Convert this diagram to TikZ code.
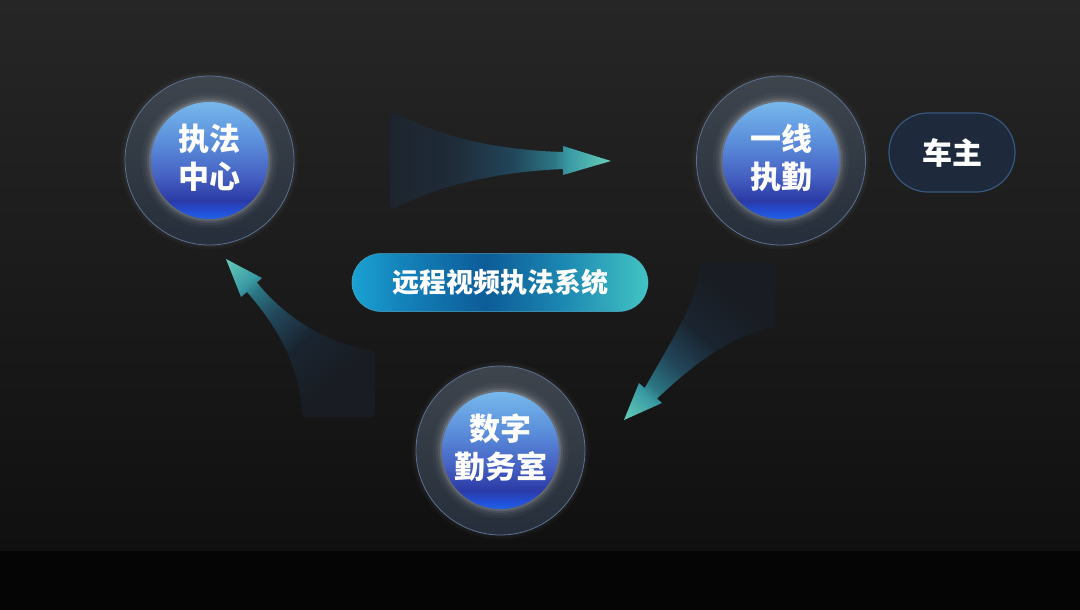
\documentclass[tikz,border=0pt]{standalone}
\usepackage{fontspec}
\newfontfamily\cjk{Noto Sans CJK SC}
\definecolor{bgtop}{HTML}{262626}
\definecolor{bgbot}{HTML}{101010}
\definecolor{arA}{HTML}{1E242D}
\definecolor{arB}{HTML}{1F2C3A}
\definecolor{sdA}{HTML}{191D23}
\definecolor{sdB}{HTML}{1A2430}
\definecolor{arC}{HTML}{22465A}
\definecolor{arD}{HTML}{2C7684}
\definecolor{arE}{HTML}{3A9AA4}
\definecolor{arF}{HTML}{66CEBB}
\definecolor{ballA}{HTML}{2262E4}
\definecolor{ballB}{HTML}{2250D8}
\definecolor{ballC}{HTML}{2B3AA6}
\definecolor{ballD}{HTML}{4560C2}
\definecolor{ballE}{HTML}{5A8CDA}
\definecolor{ballF}{HTML}{76B8EC}
\definecolor{ringtop}{HTML}{3E454D}
\definecolor{ringbot}{HTML}{262E3B}
\definecolor{ringline}{HTML}{5C7096}
\definecolor{pillA}{HTML}{1AA2D2}
\definecolor{pillB}{HTML}{1585BD}
\definecolor{pillC}{HTML}{0C5C98}
\definecolor{pillD}{HTML}{1B85B0}
\definecolor{pillE}{HTML}{42C4C4}
\definecolor{ownfill}{HTML}{1E2A3C}
\definecolor{ownline}{HTML}{36597F}
\pgfdeclarehorizontalshading{arrowshade}{100bp}{color(0bp)=(arA); color(36bp)=(arA); color(48bp)=(arB); color(58bp)=(arC); color(65bp)=(arD); color(67.5bp)=(arE); color(75bp)=(arF); color(100bp)=(arF)}
\pgfdeclarehorizontalshading{sideshade}{100bp}{color(0bp)=(sdA); color(38bp)=(sdA); color(49bp)=(sdB); color(58bp)=(arC); color(65bp)=(arD); color(67.5bp)=(arE); color(75bp)=(arF); color(100bp)=(arF)}
\pgfdeclareverticalshading{ballshade}{100bp}{color(0bp)=(ballA); color(25bp)=(ballA); color(28bp)=(ballB); color(33bp)=(ballC); color(43bp)=(ballD); color(57.5bp)=(ballE); color(75bp)=(ballF); color(100bp)=(ballF)}
\pgfdeclareverticalshading{ringshade}{100bp}{color(0bp)=(ringbot); color(25bp)=(ringbot); color(75bp)=(ringtop); color(100bp)=(ringtop)}
\pgfdeclarehorizontalshading{pillshade}{100bp}{color(0bp)=(pillA); color(25bp)=(pillA); color(32.5bp)=(pillB); color(47.5bp)=(pillC); color(60bp)=(pillD); color(75bp)=(pillE); color(100bp)=(pillE)}
\begin{document}
\begin{tikzpicture}[x=1pt,y=-1pt,
  ring/.style={circle, minimum size=169pt, inner sep=0pt, shade, shading=ringshade, draw=ringline, line width=0.8pt},
  ball/.style={circle, minimum size=117pt, inner sep=0pt, shade, shading=ballshade},
  balltext/.style={text=white, font=\cjk\bfseries\fontsize{31}{38}\selectfont, align=center, inner sep=0pt},
  pill/.style={rectangle, rounded corners=29pt, minimum width=296pt, minimum height=58pt, inner sep=0pt, shade, shading=pillshade, draw=pillA!70!white, draw opacity=0.5, line width=0.8pt, text=white, font=\cjk\bfseries\fontsize{27}{30}\selectfont},
  owner/.style={rectangle, rounded corners=39pt, minimum width=126pt, minimum height=79pt, inner sep=0pt, fill=ownfill, draw=ownline, line width=1.2pt, text=white, font=\cjk\bfseries\fontsize{30}{32}\selectfont}
]
\useasboundingbox (0,0) rectangle (1080,610);
% background
\shade[top color=bgtop, bottom color=bgbot] (0,0) rectangle (1080,551);
\fill[black!98!white] (0,551) rectangle (1080,610);

% ---------- arrows ----------
% top arrow
\begin{scope}
  \clip (396,113) .. controls (430,133) and (490,150) .. (563,152) -- (563,146) -- (611,161) -- (563,175) -- (563,169)
        .. controls (490,172) and (430,189) .. (396,208) .. controls (391,210) and (390,206) .. (390,201)
        -- (390,120) .. controls (390,115) and (392,112) .. (396,113) -- cycle;
  \begin{scope}[transform canvas={shift={(391,161)}}]
    \shade[shading=arrowshade] (-66,-130) rectangle (220,130);
  \end{scope}
\end{scope}
% right arrow
\begin{scope}
  \clip (706,262) -- (771,262) .. controls (774,262) and (775,263) .. (775,266) -- (775,324)
        .. controls (775,327) and (774,328) .. (771,328)
        .. controls (725,338) and (690,368) .. (657,398.5) -- (662,403) -- (624,420) -- (639,383) -- (644.7,388)
        .. controls (675,335) and (697,300) .. (700,268) .. controls (700,264) and (702,262) .. (706,262) -- cycle;
  \begin{scope}[transform canvas={shift={(738,295)}, rotate=-132.4}]
    \shade[shading=sideshade] (-51,-130) rectangle (169,130);
  \end{scope}
\end{scope}
% left arrow
\begin{scope}
  \clip (226,259) -- (262,278) -- (257,282.5) .. controls (285,318) and (330,345) .. (371,350)
        .. controls (374,350) and (375,351) .. (375,354) -- (375,413) .. controls (375,416) and (374,417) .. (371,417)
        -- (307,417) .. controls (303,417) and (302,416) .. (302,413)
        .. controls (300,375) and (285,335) .. (247,292) -- (241,297) -- cycle;
  \begin{scope}[transform canvas={shift={(338,384)}, rotate=131.9}]
    \shade[shading=sideshade] (-50,-130) rectangle (168,130);
  \end{scope}
\end{scope}

% ---------- circles ----------
\foreach \n/\x/\y in {1/209.5/160.5, 2/781/160.5, 3/500.5/450.5}{
  \fill[white, opacity=0.025] (\x,\y) circle[radius=89pt];
  \fill[white, opacity=0.025] (\x,\y) circle[radius=87pt];
  \node[ring] (r\n) at (\x,\y) {};
  \fill[white, opacity=0.03] (\x,\y) circle[radius=68pt];
  \fill[white, opacity=0.05] (\x,\y) circle[radius=65pt];
  \fill[white, opacity=0.08] (\x,\y) circle[radius=62.5pt];
  \fill[white, opacity=0.12] (\x,\y) circle[radius=60.5pt];
  \node[ball] (b\n) at (\x,\y) {};
}
\node[balltext] (t1) at (209.5,157.5) {执法\\中心};
\node[balltext] (t2) at (781,157.5) {一线\\执勤};
\node[balltext] (t3) at (500.5,447.5) {数字\\勤务室};

% ---------- labels ----------
\node[pill] (sys) at (500,282.5) {远程视频执法系统};
\node[owner] (own) at (952,152.5) {车主};
\end{tikzpicture}
\end{document}
